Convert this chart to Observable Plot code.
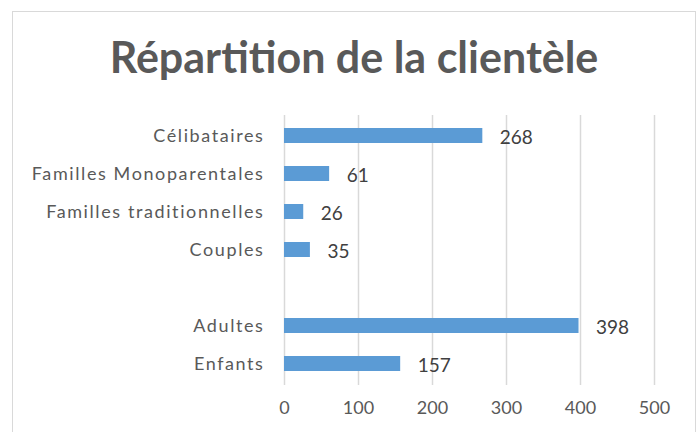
<!DOCTYPE html>
<html>
<head>
<meta charset="utf-8">
<script src="https://cdn.jsdelivr.net/npm/d3@7"></script>
<script src="https://cdn.jsdelivr.net/npm/@observablehq/plot@0.6"></script>
<style>
  html, body { margin: 0; padding: 0; background: #fff; }
  #wrap { position: relative; width: 700px; height: 432px; overflow: hidden; }
  #frame { position: absolute; left: 12px; top: 11px; width: 684px; height: 440px; border: 1px solid #d9d9d9; box-sizing: border-box; }
  #title { position: absolute; left: 12px; width: 684px; top: 31px; text-align: center;
           font-family: Lato, "Open Sans", sans-serif; font-weight: bold; font-size: 43px; color: #595959; letter-spacing: 0px; }
  #chart { position: absolute; left: 0; top: 0; }
  #chart svg g[aria-label="y-axis tick label"] text { letter-spacing: 1.6px; }
</style>
</head>
<body>
<div id="wrap">
  <div id="frame"></div>
  <div id="chart"></div>
  <div id="title">Répartition de la clientèle</div>
</div>
<script>
const categories = ["Célibataires", "Familles Monoparentales", "Familles traditionnelles", "Couples", " ", "Adultes", "Enfants"];
const barCategories = ["Célibataires", "Familles Monoparentales", "Familles traditionnelles", "Couples", "Adultes", "Enfants"];
const values = [268, 61, 26, 35, 398, 157];
const xTicks = [0, 100, 200, 300, 400, 500];

const data = barCategories.map((c, i) => ({category: c, value: values[i]}));

const chart = Plot.plot({
  width: 700,
  height: 432,
  marginLeft: 284,
  marginRight: 46,
  marginTop: 115,
  marginBottom: 47,
  style: {fontFamily: "Lato, 'Open Sans', sans-serif", fontSize: "18px", color: "#595959", background: "transparent"},
  x: {domain: [0, 500], ticks: xTicks, tickSize: 0, tickPadding: 16, label: null},
  y: {domain: categories, paddingInner: 0.6, paddingOuter: 0.3, tickSize: 0, tickPadding: 20, label: null},
  marks: [
    Plot.ruleX(xTicks, {stroke: "#d9d9d9", strokeWidth: 1.5}),
    Plot.barX(data, {x: "value", y: "category", fill: "#5b9bd5"}),
    Plot.text(data, {x: "value", y: "category", text: d => String(d.value), textAnchor: "start", dx: 17, dy: 2, fill: "#404040", fontSize: 19})
  ]
});
document.getElementById("chart").appendChild(chart);
</script>
</body>
</html>
